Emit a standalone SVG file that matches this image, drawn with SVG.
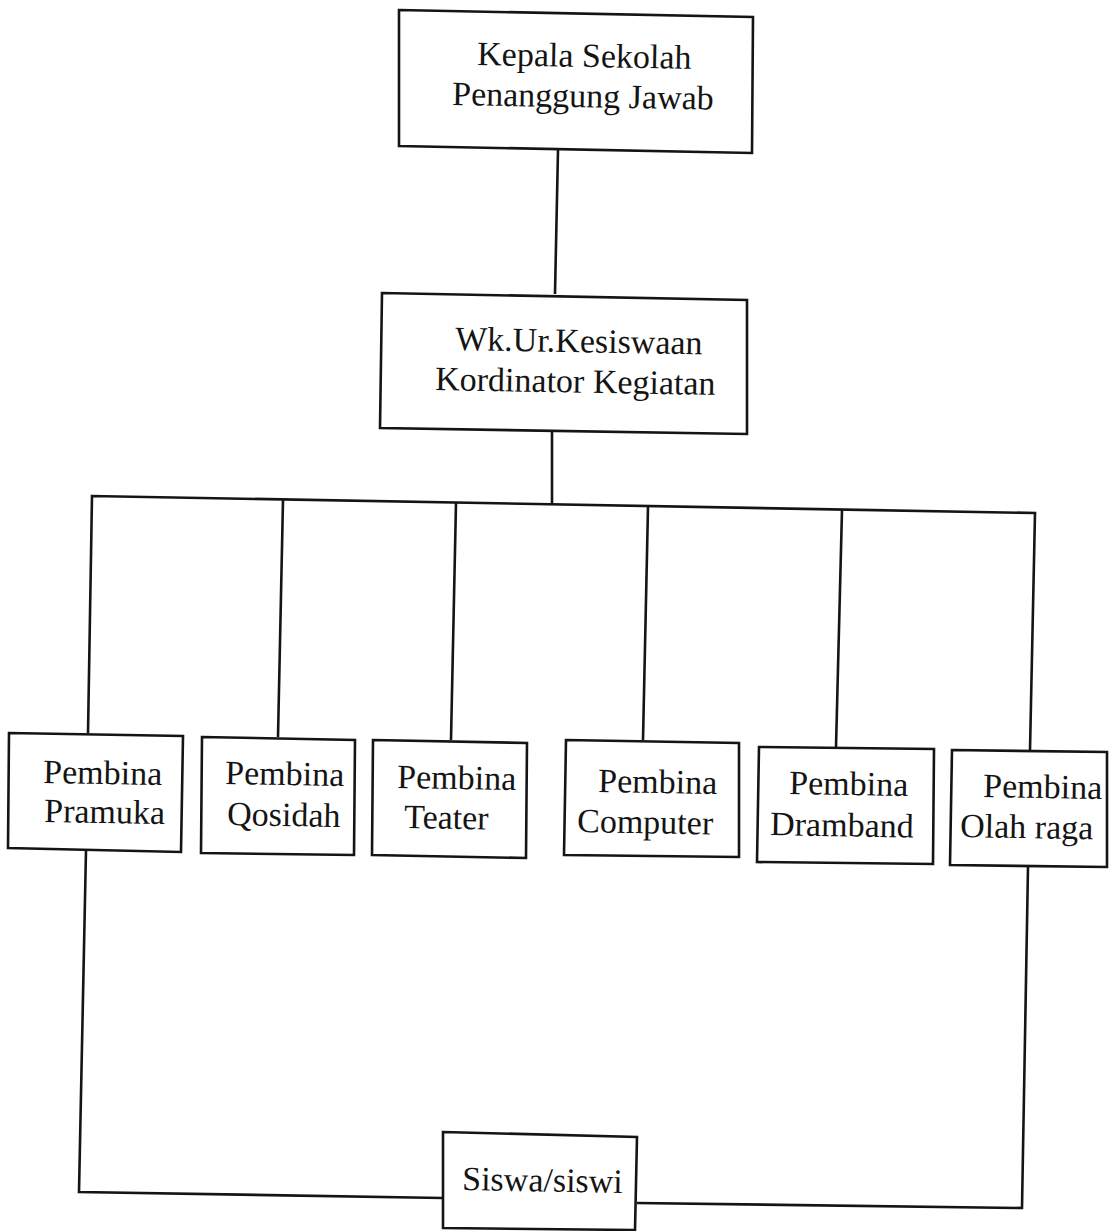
<svg xmlns="http://www.w3.org/2000/svg" width="1110" height="1231" viewBox="0 0 1110 1231">
<style>
.box{fill:#fff;stroke:#141414;stroke-width:2.6;stroke-linejoin:miter}
.conn{fill:none;stroke:#141414;stroke-width:2.6;stroke-linejoin:miter}
.t{font-family:"Liberation Serif","Times New Roman",serif;font-size:34px;fill:#141414}
</style>
<rect width="1110" height="1231" fill="#fff"/>
<g id="connectors">
<path class="conn" d="M558 150 L555 294"/>
<path class="conn" d="M552 431 L552 505"/>
<path class="conn" d="M88 733 L92 496 L1035 513 L1030 750"/>
<path class="conn" d="M283 500 L278 737"/>
<path class="conn" d="M456 503 L451 740"/>
<path class="conn" d="M648 507 L643 740"/>
<path class="conn" d="M842 510 L836 747"/>
<path class="conn" d="M86 850 L79 1192 L443 1198"/>
<path class="conn" d="M1028 867 L1022 1208 L637 1203"/>
</g>
<g id="kepala">
<path class="box" d="M399 10 L753 17 L752 153 L399 146 Z"/>
<text class="t" x="477" y="65" transform="rotate(1 477 65)">Kepala Sekolah</text>
<text class="t" x="452" y="105" transform="rotate(1 452 105)">Penanggung Jawab</text>
</g>
<g id="wakasek">
<path class="box" d="M382 293 L747 300 L747 434 L380 428 Z"/>
<text class="t" x="455" y="350" transform="rotate(1 455 350)">Wk.Ur.Kesiswaan</text>
<text class="t" x="435" y="390" transform="rotate(1 435 390)">Kordinator Kegiatan</text>
</g>
<g id="pramuka">
<path class="box" d="M9 733 L183 736 L181 852 L8 848 Z"/>
<text class="t" x="43" y="783" transform="rotate(1 43 783)">Pembina</text>
<text class="t" x="44" y="822" transform="rotate(1 44 822)">Pramuka</text>
</g>
<g id="qosidah">
<path class="box" d="M202 737 L355 740 L354 855 L201 853 Z"/>
<text class="t" x="225" y="784" transform="rotate(1 225 784)">Pembina</text>
<text class="t" x="227" y="825" transform="rotate(1 227 825)">Qosidah</text>
</g>
<g id="teater">
<path class="box" d="M373 740 L527 743 L526 858 L372 855 Z"/>
<text class="t" x="397" y="788" transform="rotate(1 397 788)">Pembina</text>
<text class="t" x="404" y="828" transform="rotate(1 404 828)">Teater</text>
</g>
<g id="computer">
<path class="box" d="M566 740 L739 743 L739 857 L564 855 Z"/>
<text class="t" x="598" y="792" transform="rotate(1 598 792)">Pembina</text>
<text class="t" x="577" y="832" transform="rotate(1 577 832)">Computer</text>
</g>
<g id="dramband">
<path class="box" d="M759 747 L934 749 L933 864 L757 862 Z"/>
<text class="t" x="789" y="794" transform="rotate(1 789 794)">Pembina</text>
<text class="t" x="770" y="835" transform="rotate(1 770 835)">Dramband</text>
</g>
<g id="olahraga">
<path class="box" d="M952 750 L1107 752 L1107 867 L950 865 Z"/>
<text class="t" x="983" y="797" transform="rotate(1 983 797)">Pembina</text>
<text class="t" x="960" y="837" transform="rotate(1 960 837)">Olah raga</text>
</g>
<g id="siswa">
<path class="box" d="M443 1132 L637 1137 L635 1230 L443 1228 Z"/>
<text class="t" x="462" y="1190" transform="rotate(1 462 1190)">Siswa/siswi</text>
</g>
</svg>
